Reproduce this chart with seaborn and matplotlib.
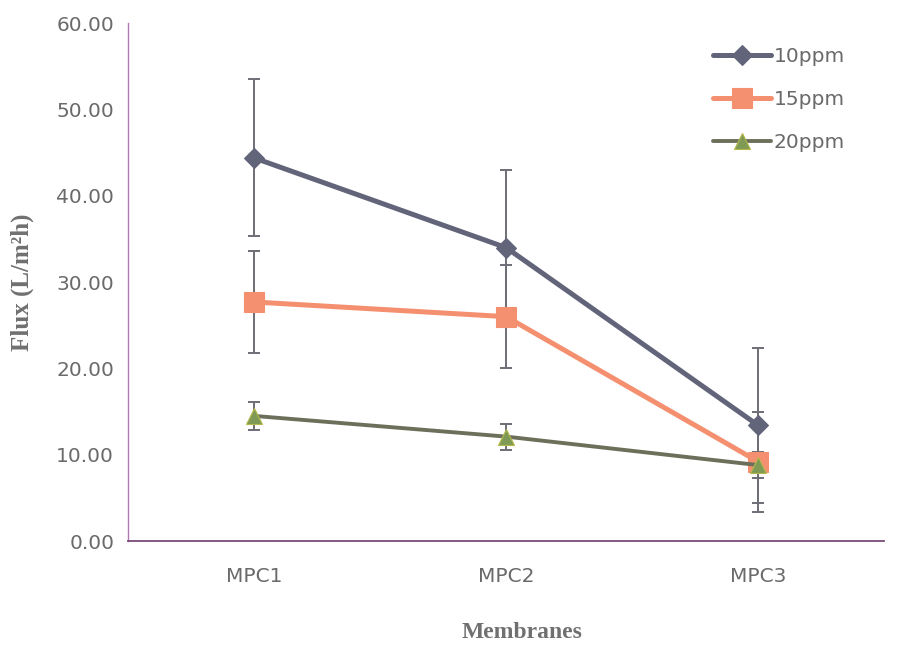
import numpy as np
import pandas as pd
import matplotlib
matplotlib.use("Agg")
import matplotlib.pyplot as plt
import seaborn as sns

# Membrane samples and feed concentrations
membranes = ["MPC1", "MPC2", "MPC3"]
concentrations = ["10ppm", "15ppm", "20ppm"]

# Mean flux (L/m2h) and standard deviation per concentration
flux_10 = [44.4, 34.0, 13.4]
flux_15 = [27.7, 26.0, 9.2]
flux_20 = [14.5, 12.1, 8.8]
err_10 = [9.1, 9.0, 9.0]
err_15 = [5.9, 6.0, 5.8]
err_20 = [1.6, 1.5, 1.5]

y_ticks = [0, 10, 20, 30, 40, 50, 60]

sns.set_theme(style="white")
plt.rcParams["font.family"] = ["DejaVu Sans"]

rows = []
for conc, vals in zip(concentrations, [flux_10, flux_15, flux_20]):
    for i, (m, v) in enumerate(zip(membranes, vals)):
        rows.append({"pos": i, "Membrane": m, "Concentration": conc, "Flux": v})
df = pd.DataFrame(rows)

colors = {"10ppm": "#62647a", "15ppm": "#f4906f", "20ppm": "#6c705a"}
markers = {"10ppm": "D", "15ppm": "s", "20ppm": "^"}
widths = {"10ppm": 3.6, "15ppm": 3.6, "20ppm": 2.8}
msizes = {"10ppm": 10, "15ppm": 14, "20ppm": 12}
mfc = {"10ppm": "#62647a", "15ppm": "#f4906f", "20ppm": "#7f9a55"}
mec = {"10ppm": "#62647a", "15ppm": "#f4906f", "20ppm": "#b5b84a"}

fig = plt.figure(figsize=(9.23, 6.46), dpi=100)
ax = fig.add_axes([0.1387, 0.1625, 0.8193, 0.8015])

# error bars
for conc, vals, errs in zip(concentrations, [flux_10, flux_15, flux_20],
                            [err_10, err_15, err_20]):
    ax.errorbar(range(len(membranes)), vals, yerr=errs, fmt="none",
                ecolor="#6e6e76", elinewidth=1.4, capsize=4.5, capthick=1.4,
                zorder=2)

for conc in concentrations:
    sub = df[df["Concentration"] == conc]
    sns.lineplot(data=sub, x="pos", y="Flux", ax=ax, color=colors[conc],
                 linewidth=widths[conc], marker=markers[conc],
                 markersize=msizes[conc], markerfacecolor=mfc[conc],
                 markeredgecolor=mec[conc], markeredgewidth=0.8,
                 label=conc, zorder=3)

ax.set_xlim(-0.5, 2.5)
ax.set_ylim(0, 60)
ax.set_yticks(y_ticks)
ax.set_yticklabels([f"{t:.2f}" for t in y_ticks], fontsize=14.5,
                   color="#6a6a6a")

# category boundaries carry tick marks; names sit between them
ax.set_xticks([-0.5, 0.5, 1.5, 2.5])
ax.set_xticklabels([])
ax.set_xticks(range(len(membranes)), minor=True)
ax.set_xticklabels(membranes, minor=True, fontsize=14.5, color="#6a6a6a")
ax.tick_params(axis="x", which="major", direction="out", length=6,
               color="#9a6a9a", width=1)
ax.tick_params(axis="x", which="minor", length=0, pad=19)
ax.tick_params(axis="y", direction="out", length=7, color="#9a6a9a",
               width=1, pad=3)

for side in ["top", "right"]:
    ax.spines[side].set_visible(False)
ax.spines["left"].set_color("#b07ab0")
ax.spines["bottom"].set_color("#7a4a7a")
ax.spines["left"].set_linewidth(1.0)
ax.spines["bottom"].set_linewidth(1.3)

ax.set_xlabel("")
ax.set_ylabel("Flux (L/m\u00b2h)", family=["Liberation Serif"],
              fontweight="bold", fontsize=18, color="#707070")
ax.yaxis.set_label_coords(-(128 - 34) / 756, 0.5)
fig.text(0.5655, 1 - 633 / 646, "Membranes", family=["Liberation Serif"],
         fontweight="bold", fontsize=17, color="#707070",
         ha="center", va="center")

leg = ax.legend(loc="upper right", bbox_to_anchor=(0.972, 0.99),
                frameon=False, fontsize=14.5, labelcolor="#6a6a6a",
                handlelength=2.85, labelspacing=1.2, handletextpad=0.15)

fig.savefig("out.png", dpi=100, facecolor="white")
